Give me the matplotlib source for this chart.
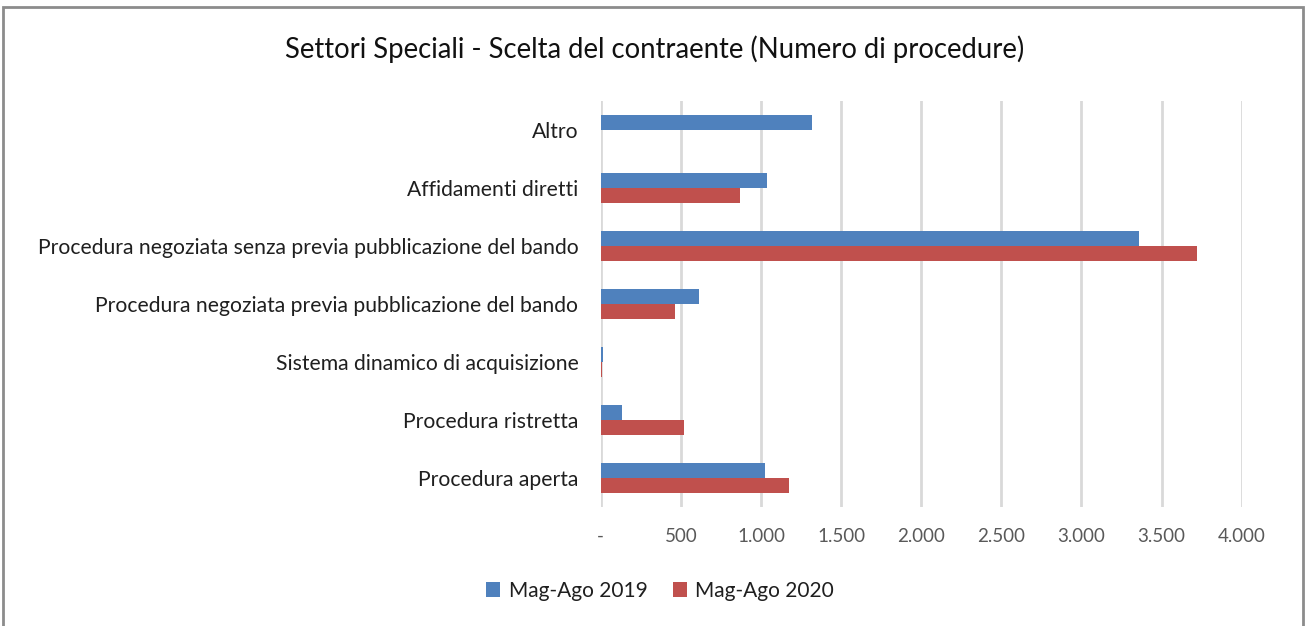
import matplotlib
matplotlib.use("Agg")
import matplotlib.pyplot as plt
from matplotlib.patches import Rectangle
from matplotlib.ticker import FuncFormatter

plt.rcParams['font.family'] = ['Lato', 'DejaVu Sans']

categories = [
    "Procedura aperta",
    "Procedura ristretta",
    "Sistema dinamico di acquisizione",
    "Procedura negoziata previa pubblicazione del bando",
    "Procedura negoziata senza previa pubblicazione del bando",
    "Affidamenti diretti",
    "Altro",
]
series_2019 = [1026, 133, 17, 615, 3359, 1035, 1319]
series_2020 = [1174, 517, 10, 461, 3722, 870, 0]
series_names = ["Mag-Ago 2019", "Mag-Ago 2020"]
colors = ["#4F81BD", "#C0504D"]
x_ticks = [0, 500, 1000, 1500, 2000, 2500, 3000, 3500, 4000]

W, H = 1307, 626
fig = plt.figure(figsize=(W / 100, H / 100), dpi=100)
ax = fig.add_axes([600.7 / W, 1 - 507.3 / H, (1241.7 - 600.7) / W, (507.3 - 101) / H])

bh = 0.258
ypos = list(range(len(categories)))
ax.barh([y + bh / 2 for y in ypos], series_2019, height=bh, color=colors[0], label=series_names[0], zorder=3)
ax.barh([y - bh / 2 for y in ypos], series_2020, height=bh, color=colors[1], label=series_names[1], zorder=3)

ax.set_xlim(0, 4000)
ax.set_ylim(-0.5, len(categories) - 0.5)
ax.set_yticks(ypos)
ax.set_yticklabels(categories, fontsize=15.2, color="#1f1f1f")
ax.set_xticks(x_ticks)

def fmt(v, pos):
    if v == 0:
        return "-"
    return f"{int(v):,}".replace(",", ".")

ax.xaxis.set_major_formatter(FuncFormatter(fmt))
ax.tick_params(axis='x', length=0, pad=15, labelsize=13.5, labelcolor="#595959")
ax.tick_params(axis='y', length=0, pad=16)
for s in ax.spines.values():
    s.set_visible(False)
ax.grid(axis='x', color="#d9d9d9", linewidth=2, zorder=0)
ax.set_axisbelow(True)

fig.text(0.5 * (285 + 1025) / W, 1 - 49 / H, "Settori Speciali - Scelta del contraente (Numero di procedure)",
         ha='center', va='center', fontsize=19.8, color="#111111")

leg = fig.legend(loc='center', bbox_to_anchor=(660 / W, 1 - 591 / H), ncol=2, frameon=False,
                 fontsize=15, handlelength=0.7, handleheight=0.7, handletextpad=0.4, columnspacing=1.2)
for t in leg.get_texts():
    t.set_color("#1f1f1f")

fig.patches.append(Rectangle((3 / W, -0.01), (1303 - 3) / W, 1 - 7 / H + 0.01, transform=fig.transFigure,
                             fill=False, edgecolor="#8c8c8c", linewidth=2))

fig.savefig("out.png", dpi=100)
